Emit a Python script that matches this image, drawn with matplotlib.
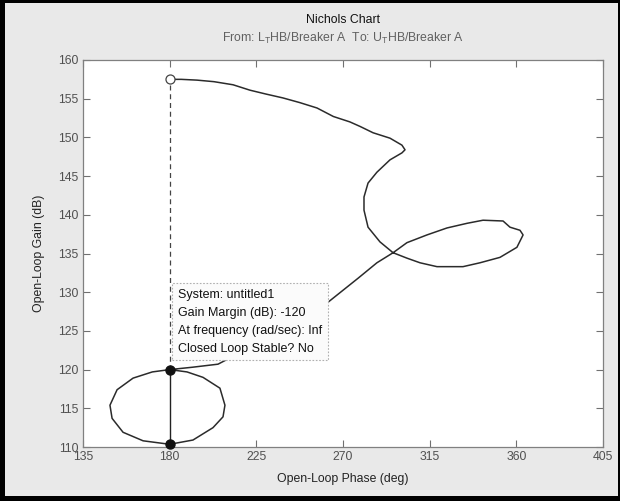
import matplotlib
matplotlib.use("Agg")
import matplotlib.pyplot as plt
from matplotlib.patches import Rectangle

# ---------------- data ----------------
phase_deg = [180, 186, 194.2, 203, 212.9, 221.7, 230, 238.8, 247.5, 256.5, 265, 273.6,
             279, 285.6, 294.4, 300.6, 302.2, 300.6, 294.4, 287.6, 283.0, 280.9, 280.9,
             283.0, 289.2, 296.0, 303.2, 310.0, 318.8, 332.3, 341.1, 351.5, 360.3,
             363.5, 361.9, 356.7, 353.1, 342.7, 334.4, 324.0, 313.6, 303.2, 296.0,
             287.6, 277.8, 261.7, 232.1, 205.1, 191.6, 180,
             171, 161.0, 152.7, 149.0, 150.1, 155.8, 166.2, 180, 192.1, 202.5, 207.7,
             208.7, 206.1, 197.3, 189.0, 180]
gain_db = [157.5, 157.5, 157.4, 157.2, 156.8, 156.1, 155.6, 155.1, 154.5, 153.8, 152.7,
           152.0, 151.4, 150.6, 149.9, 149.0, 148.4, 148.0, 147.1, 145.5, 144.1, 142.3,
           140.6, 138.4, 136.5, 135.1, 134.4, 133.8, 133.3, 133.3, 133.8, 134.5, 135.8,
           137.4, 138.0, 138.4, 139.2, 139.3, 138.9, 138.3, 137.4, 136.4, 135.1,
           133.8, 131.8, 128.6, 124.2, 120.7, 120.3, 120,
           119.7, 118.9, 117.4, 115.4, 113.7, 111.9, 110.8, 110.35, 110.9, 112.5, 113.9,
           115.4, 117.6, 119.0, 119.7, 120]

gm_phase = 180
gm_gain_curve = 120
gm_gain_low = 110.35
start_gain = 157.5

x_ticks = [135, 180, 225, 270, 315, 360, 405]
y_ticks = [110, 115, 120, 125, 130, 135, 140, 145, 150, 155, 160]

title = "Nichols Chart"
subtitle = r"From: L$_{\mathregular{T}}$HB/Breaker A  To: U$_{\mathregular{T}}$HB/Breaker A"
xlabel = "Open-Loop Phase (deg)"
ylabel = "Open-Loop Gain (dB)"
datatip = ["System: untitled1", "Gain Margin (dB): -120",
           "At frequency (rad/sec): Inf", "Closed Loop Stable? No"]

# ---------------- figure ----------------
plt.rcParams['font.family'] = ['Liberation Sans', 'DejaVu Sans']
fig = plt.figure(figsize=(6.2, 5.01), dpi=100, facecolor='#e9e9e9')
ax = fig.add_axes([83/620, 1-447/501, 520/620, 387/501])
ax.set_facecolor('white')

ax.plot(phase_deg, gain_db, color='#2b2b2b', lw=1.1, zorder=3)
ax.plot([gm_phase, gm_phase], [gm_gain_curve, start_gain], color='#444444',
        lw=0.9, ls=(0, (4, 3)), zorder=2)
ax.plot([gm_phase, gm_phase], [gm_gain_low, gm_gain_curve], color='#222222',
        lw=1.0, zorder=3)
ax.plot([gm_phase, gm_phase], [gm_gain_curve, gm_gain_low], 'o', color='#111111',
        ms=6.5, zorder=5, clip_on=False)
ax.plot([gm_phase], [start_gain], 'o', mfc='white', mec='#444444', mew=0.9,
        ms=6.5, zorder=5)

ax.text(184.3, 130.45, "\n".join(datatip), ha='left', va='top', fontsize=9.0,
        color='#111111', linespacing=1.66, zorder=6,
        bbox=dict(boxstyle='square,pad=0.45', fc='#fbfbfb', ec='#b0b0b0',
                  ls=(0, (1.5, 1.5)), lw=0.8))

ax.set_xlim(135, 405)
ax.set_ylim(110, 160)
ax.set_xticks(x_ticks)
ax.set_yticks(y_ticks)
ax.tick_params(direction='in', top=True, right=True, length=5, width=0.8,
               colors='#707070', labelcolor='#505050', labelsize=8.8, pad=3)
for s in ax.spines.values():
    s.set_color('#808080')
    s.set_linewidth(0.9)

ax.set_xlabel(xlabel, fontsize=8.8, color='#222222', labelpad=7)
ax.set_ylabel(ylabel, fontsize=8.8, color='#222222', labelpad=10)

fig.text(343/620, 1-20/501, title, ha='center', va='center', fontsize=8.8,
         color='#111111')
fig.text(343/620, 1-38/501, subtitle, ha='center', va='center', fontsize=8.8,
         color='#606060')

# screenshot frame
for (x0, y0, w, h) in [(0, 0, 5/620, 1), (0, 0, 1, 5/501), (0, 1-3/501, 1, 3/501),
                       (1-2/620, 0, 2/620, 1)]:
    fig.patches.append(Rectangle((x0, y0), w, h, transform=fig.transFigure,
                                 fc='black', ec='none', zorder=10))

fig.savefig("out.png", dpi=100, facecolor=fig.get_facecolor())
